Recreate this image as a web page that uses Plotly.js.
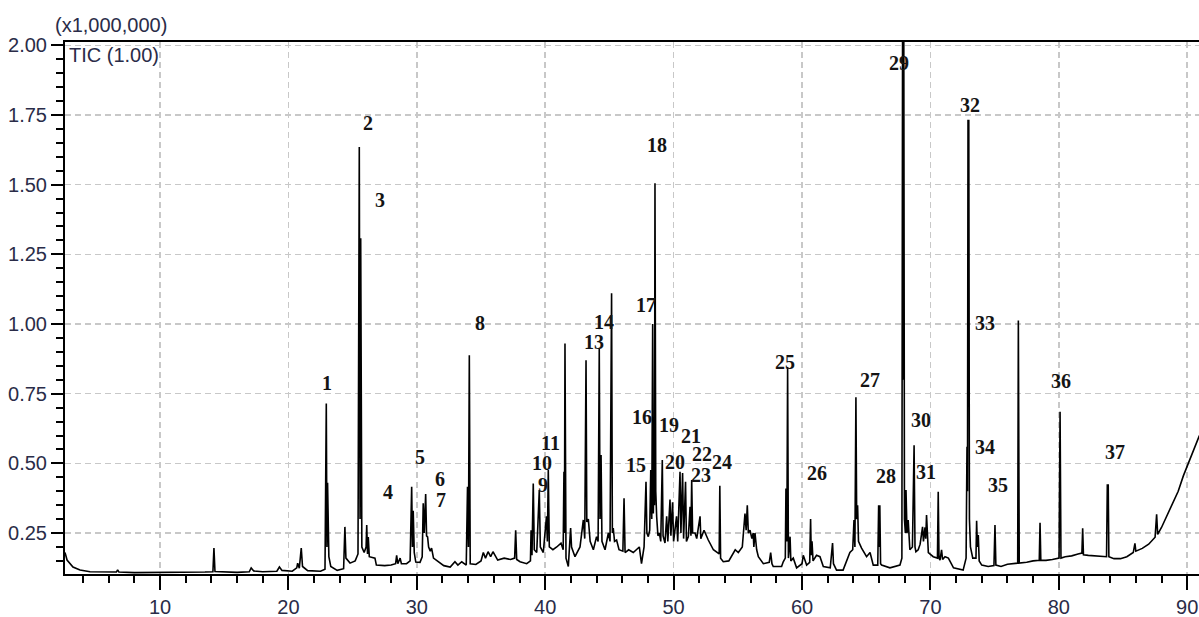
<!DOCTYPE html>
<html>
<head>
<meta charset="utf-8">
<script src="https://cdn.plot.ly/plotly-3.0.1.min.js"></script>
<style>html,body{margin:0;padding:0;background:#fff;}#chart{width:1199px;height:617px;}</style>
</head>
<body>
<div id="chart"></div>
<script>
// Retention time (min) and TIC intensity (x1,000,000), by segment
const rtA  = [2.60,2.76,3.22,3.77,4.55,5.50,6.60,6.70,6.80,8.00,10.00,12.00,13.50,14.12,14.20,14.28,15.00,16.00,16.95,17.10,17.30,18.00,19.10,19.30,19.50,20.30,20.65,20.72,20.85,21.00,21.10,21.50,22.50,22.85];
const ticA = [0.180,0.153,0.128,0.117,0.111,0.110,0.110,0.118,0.110,0.108,0.108,0.109,0.110,0.111,0.196,0.112,0.110,0.109,0.111,0.125,0.114,0.111,0.113,0.128,0.116,0.113,0.125,0.142,0.124,0.196,0.130,0.115,0.113,0.120];

const rtB  = [22.95,23.00,23.05,23.15,23.30,23.80,24.30,24.40,24.48,24.80,25.20,25.42,25.52,25.58,25.63,25.72,25.90,26.05,26.10,26.16,26.22,26.30,26.74,26.85,27.50,28.00,28.35,28.43,28.52,28.70,28.80,29.20,29.48];
const ticB = [0.715,0.200,0.430,0.165,0.130,0.116,0.122,0.272,0.160,0.142,0.150,0.175,1.635,0.300,1.308,0.200,0.180,0.200,0.279,0.175,0.236,0.165,0.160,0.135,0.133,0.135,0.140,0.170,0.140,0.160,0.140,0.140,0.150];

const rtC  = [29.60,29.66,29.72,29.80,29.92,30.25,30.42,30.50,30.58,30.69,30.76,30.84,30.92,31.05,31.15,31.30,31.60,32.10,32.60,32.97,33.20,33.50,33.85,33.95,34.02,34.09,34.16,34.60,35.00,35.18,35.35,35.55,35.75,35.93,36.30,36.80,37.30,37.62,37.70,37.78,38.04,38.56];
const ticC = [0.416,0.200,0.330,0.180,0.146,0.145,0.165,0.357,0.250,0.390,0.240,0.236,0.200,0.185,0.196,0.160,0.150,0.133,0.128,0.147,0.135,0.147,0.135,0.416,0.200,0.888,0.140,0.137,0.150,0.180,0.160,0.183,0.165,0.183,0.153,0.160,0.155,0.160,0.260,0.155,0.147,0.140];

const rtD  = [38.85,38.90,38.97,39.07,39.15,39.34,39.54,39.62,39.85,40.10,40.17,40.24,40.32,40.60,40.90,41.23,41.40,41.46,41.50,41.54,41.62,41.80,41.98,42.05,42.32,42.71,42.97,43.08,43.18,43.24,43.36,43.50,43.75,44.00,44.12,44.21,44.27,44.35,44.42,44.66,44.92,45.05,45.17,45.23,45.30,45.40,45.56,45.75,46.05,46.14,46.22,46.50,46.86,47.10,47.33,47.50];
const ticD = [0.150,0.260,0.170,0.428,0.190,0.180,0.404,0.200,0.180,0.310,0.220,0.476,0.200,0.190,0.200,0.214,0.190,0.470,0.250,0.930,0.160,0.130,0.268,0.200,0.165,0.200,0.297,0.230,0.870,0.290,0.300,0.220,0.190,0.237,0.220,0.912,0.300,0.530,0.220,0.190,0.250,0.220,1.110,0.250,0.268,0.220,0.225,0.190,0.185,0.375,0.180,0.190,0.180,0.190,0.200,0.140];

const rtE  = [47.70,47.85,47.92,48.03,48.14,48.22,48.30,48.37,48.42,48.47,48.51,48.55,48.61,48.68,48.78,48.89,49.00,49.12,49.18,49.33,49.46,49.55,49.72,49.79,49.92,50.00,50.23,50.32,50.50,50.57,50.70,50.78,50.93,51.00,51.15,51.28,51.35,51.41,51.48,51.67,51.80,52.06,52.12,52.37,52.70,53.10,53.35,53.55,53.60,53.66,53.87,54.30,54.80,55.04,55.35,55.56,55.65,55.74,55.82,55.95,56.10,56.20,56.25,56.34,56.47,56.60,56.99];
const ticE = [0.200,0.434,0.250,0.237,0.260,0.476,0.300,1.000,0.320,0.450,0.350,1.505,0.400,0.310,0.240,0.250,0.220,0.512,0.240,0.214,0.310,0.220,0.370,0.240,0.360,0.220,0.310,0.220,0.470,0.250,0.465,0.230,0.434,0.220,0.237,0.344,0.240,0.440,0.250,0.250,0.230,0.310,0.230,0.260,0.225,0.190,0.180,0.175,0.420,0.160,0.147,0.150,0.190,0.180,0.200,0.320,0.260,0.350,0.250,0.260,0.230,0.250,0.200,0.250,0.190,0.165,0.140];

const rtF  = [57.45,57.56,57.66,57.76,58.41,58.54,58.70,58.75,58.82,58.88,58.94,59.07,59.13,59.32,59.58,60.00,60.10,60.36,60.60,60.67,60.72,60.78,60.86,61.13,61.40,61.66,62.20,62.38,62.45,62.69,63.20,63.73,63.95,64.05,64.12,64.20,64.26,64.33,64.40,64.64,65.03,65.30,65.55,65.90,65.97,66.02,66.06,66.12,66.20,66.85,67.63,67.78];
const ticF = [0.145,0.180,0.140,0.130,0.130,0.147,0.160,0.410,0.220,0.846,0.160,0.237,0.150,0.160,0.125,0.140,0.170,0.135,0.145,0.300,0.170,0.220,0.150,0.170,0.165,0.130,0.125,0.214,0.140,0.117,0.117,0.180,0.190,0.297,0.200,0.737,0.300,0.350,0.220,0.196,0.165,0.180,0.135,0.135,0.350,0.200,0.350,0.140,0.135,0.125,0.135,0.160];

const rtG  = [67.84,67.88,67.92,67.98,68.05,68.10,68.18,68.27,68.34,68.40,68.60,68.73,68.80,68.87,69.05,69.20,69.39,69.46,69.58,69.64,69.70,69.76,69.84,70.22,70.55,70.61,70.67,70.75,70.87,70.95,71.14,71.40,71.80,72.55,72.78,72.85,72.89,72.93,72.99,73.04,73.12,73.30,73.55,73.60,73.66,73.73,73.80];
const ticG = [2.300,0.800,2.300,0.300,0.250,0.404,0.250,0.297,0.210,0.190,0.200,0.565,0.200,0.183,0.190,0.210,0.272,0.220,0.270,0.230,0.315,0.220,0.180,0.165,0.160,0.398,0.160,0.153,0.190,0.155,0.165,0.160,0.125,0.117,0.160,0.560,0.400,1.730,1.730,0.300,0.200,0.160,0.160,0.294,0.200,0.243,0.150];

const rtH  = [74.00,74.50,74.95,75.03,75.10,75.50,76.00,76.50,76.80,76.85,76.92,77.50,78.00,78.48,78.54,78.60,79.00,79.50,80.02,80.10,80.17,80.50,81.00,81.50,81.80,81.86,81.92,82.30,82.80,83.30,83.72,83.78,83.85,83.90,84.30,84.80,85.30,85.80,85.93,86.00,86.50,87.00,87.50,87.62,87.70,88.00,88.50,89.00,89.30,89.70,90.00,90.30,90.60,90.95];
const ticH = [0.135,0.130,0.133,0.279,0.135,0.130,0.138,0.140,0.142,1.013,0.142,0.145,0.150,0.152,0.287,0.152,0.152,0.155,0.160,0.685,0.160,0.165,0.168,0.175,0.178,0.267,0.172,0.170,0.168,0.168,0.165,0.422,0.422,0.165,0.158,0.158,0.165,0.180,0.213,0.185,0.195,0.210,0.235,0.317,0.245,0.270,0.320,0.370,0.400,0.455,0.490,0.530,0.566,0.600];

// Peak numbers and where their labels sit (retention time, intensity)
const peakLabels  = ['1','2','3','4','5','6','7','8','9','10','11','13','14','15','16','17','18','19','20','21','22','23','24','25','26','27','28','29','30','31','32','33','34','35','36','37'];
const peakLabelRT = [23.0,26.2,27.13,27.76,30.25,31.81,31.88,34.92,39.83,39.75,40.45,43.8,44.58,47.07,47.54,47.85,48.71,49.68,50.1,51.32,52.2,52.13,53.8,58.68,61.17,65.26,66.58,67.55,69.27,69.66,73.12,74.29,74.29,75.3,80.17,84.34];
const peakLabelY  = [0.788,1.72,1.444,0.397,0.522,0.444,0.368,1.003,0.422,0.500,0.573,0.935,1.006,0.494,0.666,1.067,1.641,0.636,0.505,0.598,0.532,0.457,0.505,0.863,0.465,0.799,0.454,1.935,0.655,0.469,1.785,1.003,0.558,0.422,0.795,0.54];

const rt  = [].concat(rtA, rtB, rtC, rtD, rtE, rtF, rtG, rtH);
const tic = [].concat(ticA, ticB, ticC, ticD, ticE, ticF, ticG, ticH);

const tickFont = {family: 'Liberation Sans, Arial, sans-serif', size: 20, color: '#2a2c48'};

const trace = {
  x: rt, y: tic, type: 'scatter', mode: 'lines',
  line: {color: '#000', width: 1.6},
  hoverinfo: 'skip'
};

const annotations = peakLabels.map((t, i) => ({
  x: peakLabelRT[i], y: peakLabelY[i], xref: 'x', yref: 'y',
  text: '<b>' + t + '</b>', showarrow: false, xanchor: 'center', yanchor: 'middle',
  font: {family: 'Liberation Serif, Times New Roman, serif', size: 20, color: '#141414'}
}));
annotations.push({
  x: -0.0106, y: 1.032, xref: 'paper', yref: 'paper', xanchor: 'left', yanchor: 'middle',
  text: '(x1,000,000)', showarrow: false, font: tickFont
});
annotations.push({
  x: 0.0018, y: 0.9756, xref: 'paper', yref: 'paper', xanchor: 'left', yanchor: 'middle',
  text: 'TIC (1.00)', showarrow: false, font: tickFont
});

const gridStyle = {showgrid: true, gridcolor: '#c8c8c8', gridwidth: 1.5, griddash: '6px,4px'};

const layout = {
  width: 1199, height: 617,
  margin: {l: 65, r: 0, t: 42, b: 43, pad: 0},
  paper_bgcolor: '#fff', plot_bgcolor: '#fff',
  showlegend: false,
  xaxis: Object.assign({
    range: [2.6, 90.92], tickmode: 'linear', tick0: 0, dtick: 10,
    ticks: 'outside', ticklen: 14, tickwidth: 2, tickcolor: '#000',
    showline: true, linewidth: 2, linecolor: '#000', mirror: true,
    zeroline: false, tickfont: tickFont,
    minor: {tickmode: 'linear', tick0: 0, dtick: 2, ticks: 'outside', ticklen: 7, tickwidth: 2, tickcolor: '#000', showgrid: false}
  }, gridStyle),
  yaxis: Object.assign({
    range: [0.103, 2.012], tickmode: 'linear', tick0: 0, dtick: 0.25, tickformat: '.2f',
    ticks: 'outside', ticklen: 12, tickwidth: 2, tickcolor: '#000',
    showline: true, linewidth: 2, linecolor: '#000',
    zeroline: false, tickfont: tickFont,
    minor: {tickmode: 'linear', tick0: 0, dtick: 0.05, ticks: 'outside', ticklen: 7, tickwidth: 2, tickcolor: '#000', showgrid: false}
  }, gridStyle),
  annotations: annotations
};

Plotly.newPlot('chart', [trace], layout, {displayModeBar: false, staticPlot: true});
</script>
</body>
</html>
